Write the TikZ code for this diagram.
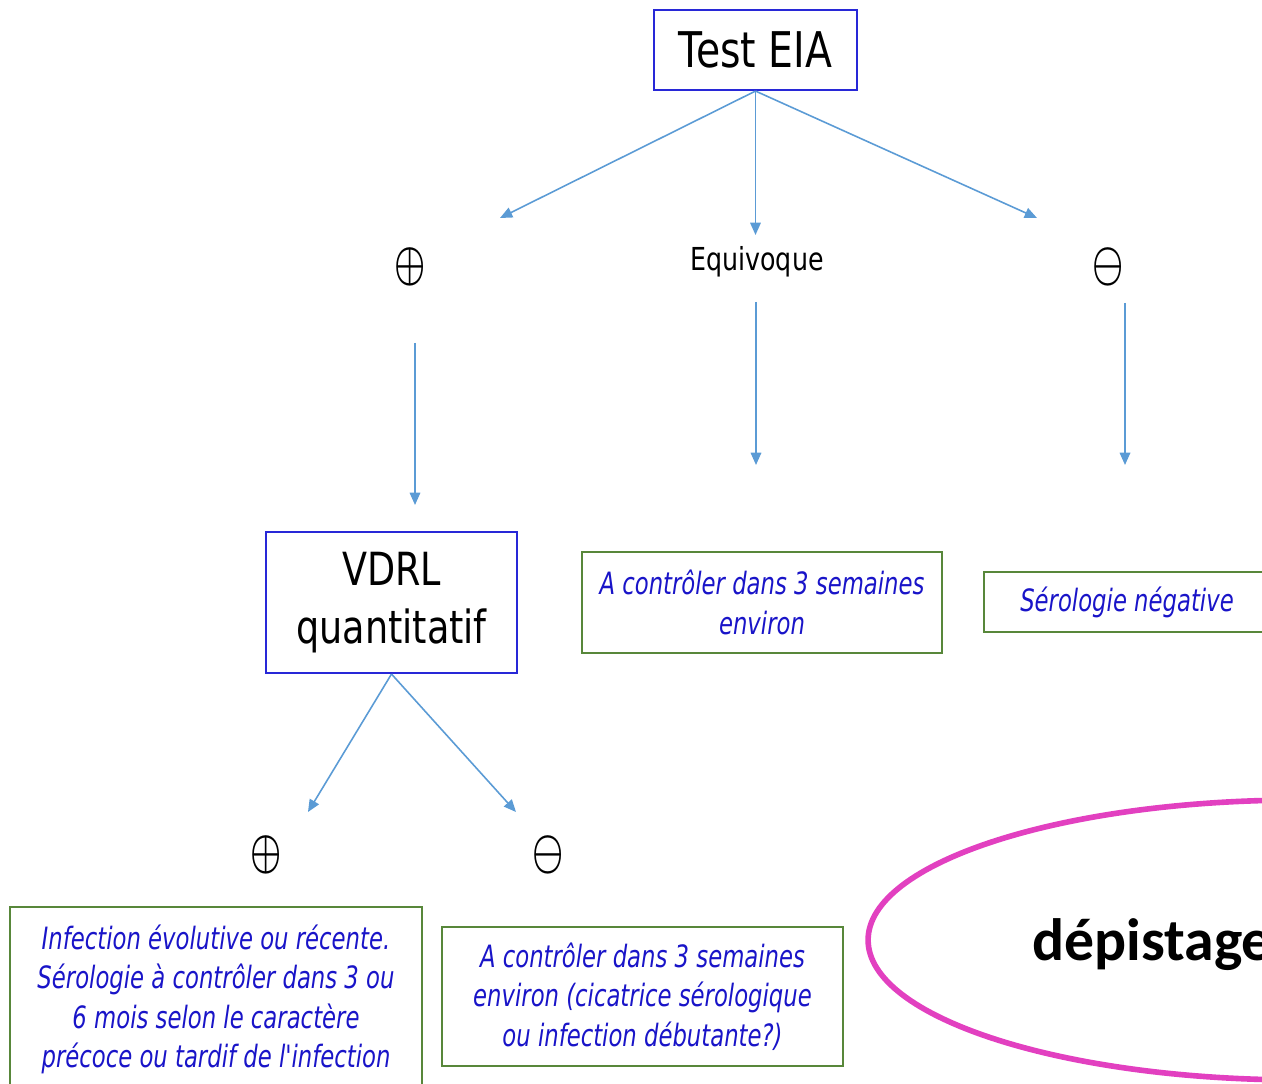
\documentclass[tikz,border=0pt]{standalone}
\usepackage{amsmath}
\usepackage{fontspec}
\setmainfont{DejaVu Sans}
\newfontfamily\labelfont[FakeStretch=0.8]{DejaVu Sans}
\newfontfamily\notefont[FakeStretch=0.74]{DejaVu Sans}
\newfontfamily\ovalfont{Carlito}
\usetikzlibrary{arrows.meta}
\definecolor{ArrowClr}{RGB}{91,155,213}
\definecolor{FrameClr}{RGB}{40,40,215}
\definecolor{NoteClr}{RGB}{88,135,58}
\definecolor{TextClr}{RGB}{25,20,200}
\definecolor{OvalClr}{RGB}{226,64,192}

\begin{document}
\begin{tikzpicture}[x=0.02cm,y=-0.02cm,
  flow/.style={draw=ArrowClr,line width=0.9pt,-{Triangle[length=7pt,width=6pt]}},
  testbox/.style={draw=FrameClr,line width=1.2pt,align=center,inner sep=0pt},
  notebox/.style={draw=NoteClr,line width=1.2pt,align=center,inner sep=0pt,text=TextClr,
    font=\notefont\itshape\fontsize{17.5}{22.5}\selectfont},
  sign/.style={font=\fontsize{30}{30}\selectfont}]
\clip (0,0) rectangle (1262,1084);

\node[testbox,minimum width=4.06cm,minimum height=1.6cm,
  font=\labelfont\fontsize{28}{34}\selectfont] (eia) at (755.5,50) {Test EIA};

\node[sign] (pos) at (410,267) {\scalebox{0.8}[1.15]{$\boldsymbol{\oplus}$}};
\node[font=\labelfont\fontsize{18}{22}\selectfont] (equi) at (757,262) {Equivoque};
\node[sign] (neg) at (1108,267) {\scalebox{0.8}[1.15]{$\boldsymbol{\ominus}$}};

\coordinate (posTip) at (500,218);
\coordinate (equiTip) at (755.5,235);
\coordinate (negTip) at (1037,218);
\draw[flow] (eia.south) -- (posTip);
\draw[flow] (eia.south) -- (equiTip);
\draw[flow] (eia.south) -- (negTip);

\coordinate (posTail) at (415,343);
\coordinate (posEnd) at (415,505);
\coordinate (equiTail) at (756,302);
\coordinate (equiEnd) at (756,465);
\coordinate (negTail) at (1125,303);
\coordinate (negEnd) at (1125,465);
\draw[flow] (posTail) -- (posEnd);
\draw[flow] (equiTail) -- (equiEnd);
\draw[flow] (negTail) -- (negEnd);

\node[testbox,minimum width=5.02cm,minimum height=2.82cm,
  font=\labelfont\fontsize{26}{33}\selectfont] (vdrl) at (391.5,602.5) {VDRL\\quantitatif};
\node[notebox,minimum width=7.2cm,minimum height=2.02cm] (ctrl) at (762,602.5)
  {A contrôler dans 3 semaines\\environ};
\node[notebox,minimum width=5.72cm,minimum height=1.2cm] (sero) at (1127,602)
  {Sérologie négative};

\coordinate (vposTip) at (308,812);
\coordinate (vnegTip) at (516,812);
\draw[flow] (vdrl.south) -- (vposTip);
\draw[flow] (vdrl.south) -- (vnegTip);

\node[sign] (vpos) at (266,855) {\scalebox{0.8}[1.15]{$\boldsymbol{\oplus}$}};
\node[sign] (vneg) at (548,855) {\scalebox{0.8}[1.15]{$\boldsymbol{\ominus}$}};

\node[notebox,minimum width=8.24cm,minimum height=3.7cm] (recent) at (216,999.5)
  {Infection évolutive ou récente.\\Sérologie à contrôler dans 3 ou\\6 mois selon le caractère\\précoce ou tardif de l'infection};
\node[notebox,minimum width=8.02cm,minimum height=2.78cm] (scar) at (642.5,996.5)
  {A contrôler dans 3 semaines\\environ (cicatrice sérologique\\ou infection débutante?)};

\draw[OvalClr,line width=3.2pt] (1300,940) ellipse [x radius=8.64cm,y radius=2.8cm];
\node[anchor=base west,inner sep=0pt,font=\ovalfont\bfseries\fontsize{34}{40}\selectfont] (screen) at (1032,960) {dépistage};

\end{tikzpicture}
\end{document}
